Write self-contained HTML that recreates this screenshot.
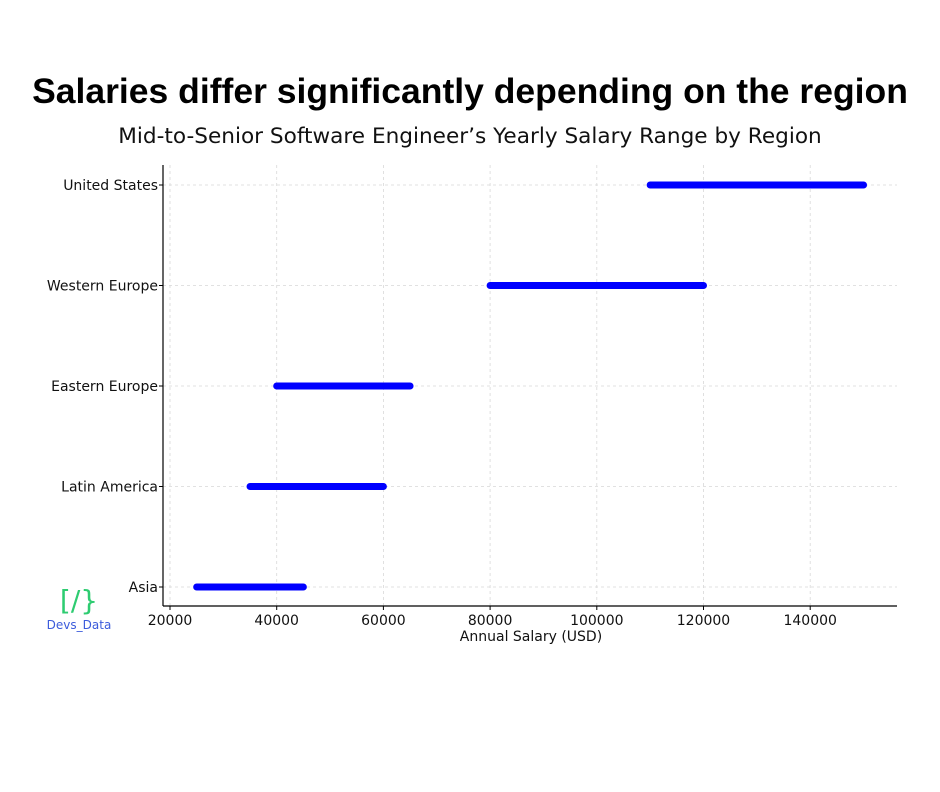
<!DOCTYPE html>
<html><head><meta charset="utf-8"><style>
body{margin:0;background:#fff;width:940px;height:788px;overflow:hidden;font-family:"DejaVu Sans","Liberation Sans",sans-serif}
</style></head><body>
<svg width="940" height="788" xmlns="http://www.w3.org/2000/svg">
<text x="470" y="103" text-anchor="middle" font-family="Liberation Sans, sans-serif" font-weight="bold" font-size="35.5" fill="#000">Salaries differ significantly depending on the region</text>
<text x="470" y="143" text-anchor="middle" font-family="DejaVu Sans, sans-serif" font-size="21.6" fill="#111">Mid-to-Senior Software Engineer’s Yearly Salary Range by Region</text>
<g id="plot"></g>
<text x="79" y="610" text-anchor="middle" font-family="DejaVu Sans, sans-serif" font-size="28" fill="#2ecc71">[/}</text>
<text x="79" y="629" text-anchor="middle" font-family="DejaVu Sans, sans-serif" font-size="12" fill="#3b5bdb">Devs_Data</text>
</svg>
<script>
const regions=["United States","Western Europe","Eastern Europe","Latin America","Asia"];
const minSalary=[110000,80000,40000,35000,25000];
const maxSalary=[150000,120000,65000,60000,45000];
const xTicks=[20000,40000,60000,80000,100000,120000,140000];
const NS="http://www.w3.org/2000/svg";
const g=document.getElementById('plot');
const L=163,R=897,T=165,B=606;
const x=v=>170+(v-20000)*(106.7/20000);
const y=i=>185+i*100.5;
function mk(t,a,txt){const e=document.createElementNS(NS,t);for(const k in a)e.setAttribute(k,a[k]);if(txt!==undefined)e.textContent=txt;g.appendChild(e);return e;}
xTicks.forEach(v=>{
 const l=mk('line',{x1:x(v),x2:x(v),y1:T,y2:B,stroke:'#d8d8d8','stroke-dasharray':'3,3','stroke-width':0.8});
 
 
 mk('line',{x1:x(v),x2:x(v),y1:B,y2:B+4,stroke:'#000'});
 const t=mk('text',{x:x(v),y:B+19,'text-anchor':'middle','font-size':14,fill:'#111'},v);
 
 
});
regions.forEach((r,i)=>{
 const l=mk('line',{x1:L,x2:R,y1:y(i),y2:y(i),stroke:'#d8d8d8','stroke-dasharray':'3,3','stroke-width':0.8});
 
 
 mk('line',{x1:L-4,x2:L,y1:y(i),y2:y(i),stroke:'#000'});
 const t=mk('text',{x:L-5,y:y(i)+5,'text-anchor':'end','font-size':14,fill:'#111'},r);
 
 
 const b=mk('line',{x1:x(minSalary[i]),x2:x(maxSalary[i]),y1:y(i),y2:y(i),stroke:'#0000ff','stroke-width':7,'stroke-linecap':'round'});
 
 
});
const a1=mk('line',{x1:L,x2:L,y1:T,y2:B,stroke:'#000','stroke-width':1.2});


const a2=mk('line',{x1:L,x2:R,y1:B,y2:B,stroke:'#000','stroke-width':1.2});


const xt=mk('text',{x:531,y:641,'text-anchor':'middle','font-size':14,fill:'#111'},'Annual Salary (USD)');


</script>
</body></html>
